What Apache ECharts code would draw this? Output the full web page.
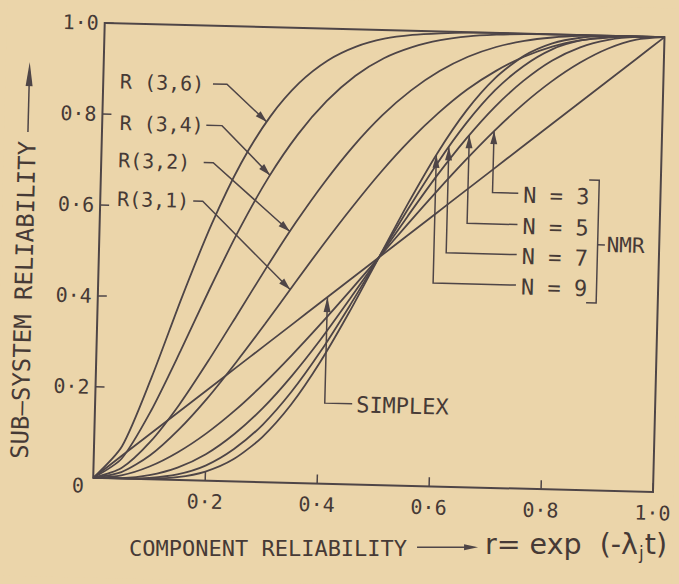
<!DOCTYPE html>
<html>
<head>
<meta charset="utf-8">
<script src="https://cdn.jsdelivr.net/npm/echarts@6.0.0/dist/echarts.min.js"></script>
<style>
  html, body { margin: 0; padding: 0; background: #ebd5aa; overflow: hidden; }
  #chart { width: 679px; height: 584px; transform: rotate(1.45deg); transform-origin: 339.5px 292px; }
</style>
</head>
<body>
<div id="chart"></div>
<script>
// Component reliability r, sampled every 0.05
const reliability = [0, 0.05, 0.1, 0.15, 0.2, 0.25, 0.3, 0.35, 0.4, 0.45, 0.5, 0.55, 0.6, 0.65, 0.7, 0.75, 0.8, 0.85, 0.9, 0.95, 1];

// Sub-system reliability for each arrangement
const simplex = [0, 0.05, 0.1, 0.15, 0.2, 0.25, 0.3, 0.35, 0.4, 0.45, 0.5, 0.55, 0.6, 0.65, 0.7, 0.75, 0.8, 0.85, 0.9, 0.95, 1];
const nmr3 = [0, 0.007, 0.028, 0.061, 0.104, 0.156, 0.216, 0.282, 0.352, 0.425, 0.500, 0.575, 0.648, 0.718, 0.784, 0.844, 0.896, 0.939, 0.972, 0.993, 1];
const nmr5 = [0, 0.001, 0.009, 0.027, 0.058, 0.104, 0.163, 0.235, 0.317, 0.407, 0.500, 0.593, 0.683, 0.765, 0.837, 0.896, 0.942, 0.973, 0.991, 0.999, 1];
const nmr7 = [0, 0.000, 0.003, 0.012, 0.033, 0.071, 0.126, 0.200, 0.290, 0.392, 0.500, 0.608, 0.710, 0.800, 0.874, 0.929, 0.967, 0.988, 0.997, 1.000, 1];
const nmr9 = [0, 0.000, 0.001, 0.006, 0.020, 0.049, 0.099, 0.172, 0.267, 0.379, 0.500, 0.621, 0.733, 0.828, 0.901, 0.951, 0.980, 0.994, 0.999, 1.000, 1];
const r31 = [0, 0.014, 0.052, 0.110, 0.181, 0.262, 0.348, 0.437, 0.525, 0.609, 0.688, 0.759, 0.821, 0.874, 0.916, 0.949, 0.973, 0.988, 0.996, 1.000, 1];
const r32 = [0, 0.023, 0.082, 0.165, 0.263, 0.367, 0.472, 0.572, 0.663, 0.744, 0.813, 0.869, 0.913, 0.946, 0.969, 0.984, 0.993, 0.998, 1.000, 1, 1];
const r34 = [0, 0.044, 0.150, 0.283, 0.423, 0.555, 0.671, 0.766, 0.841, 0.898, 0.938, 0.964, 0.981, 0.991, 0.996, 0.999, 1, 1, 1, 1, 1];
const r36 = [0, 0.071, 0.225, 0.401, 0.564, 0.700, 0.804, 0.879, 0.930, 0.962, 0.981, 0.991, 0.996, 0.999, 1, 1, 1, 1, 1, 1, 1];

// Tick labels, one per 0.2 step
const tickLabels = ['0', '0·2', '0·4', '0·6', '0·8', '1·0'];

const PAPER = '#ebd5aa';
const INK = '#4e4547';
const TEXT_INK = '#463a36';
const MONO = '"DejaVu Sans Mono", monospace';
const SANS = '"DejaVu Sans", sans-serif';

const chart = echarts.init(document.getElementById('chart'), null, { renderer: 'svg', width: 679, height: 584 });

const curves = [
  ['Simplex', simplex], ['NMR N = 3', nmr3], ['NMR N = 5', nmr5], ['NMR N = 7', nmr7], ['NMR N = 9', nmr9],
  ['R(3,1)', r31], ['R(3,2)', r32], ['R(3,4)', r34], ['R(3,6)', r36]
];

const tickFormatter = v => (v === 0 ? '' : tickLabels[Math.round(v / 0.2)]);

const axisCommon = {
  type: 'value', min: 0, max: 1, interval: 0.2,
  axisLine: { show: false },
  axisTick: { inside: true, length: 9, lineStyle: { color: INK, width: 1.5 } },
  splitLine: { show: false },
  axisLabel: {
    showMinLabel: false, formatter: tickFormatter,
    fontFamily: MONO, fontSize: 20, color: TEXT_INK
  }
};

chart.setOption({
  animation: false,
  backgroundColor: PAPER,
  grid: { left: 98, top: 29, width: 560, height: 455, show: true, borderColor: INK, borderWidth: 2 },
  xAxis: Object.assign({}, axisCommon, { axisLabel: Object.assign({}, axisCommon.axisLabel, { margin: 11 }) }),
  yAxis: Object.assign({}, axisCommon, { axisLabel: Object.assign({}, axisCommon.axisLabel, { margin: 6 }) }),
  series: curves.map(([name, vals]) => ({
    name, type: 'line', silent: true, showSymbol: false, smooth: 0.25,
    data: reliability.map((r, i) => [r, vals[i]]),
    lineStyle: { color: INK, width: 1.8 }, z: 3
  }))
});

// ---- callouts, bracket and axis titles ----
const P = (r, v) => chart.convertToPixel({ gridIndex: 0 }, [r, v]);

function curveAt(vals, r) {
  for (let i = 0; i < reliability.length - 1; i++) {
    if (r <= reliability[i + 1]) {
      const t = (r - reliability[i]) / (reliability[i + 1] - reliability[i]);
      return vals[i] + t * (vals[i + 1] - vals[i]);
    }
  }
  return vals[vals.length - 1];
}

const stroke = (points, w) => ({ type: 'polyline', z: 10, silent: true, shape: { points }, style: { stroke: INK, lineWidth: w || 1.5, fill: null } });
function arrowHead(tip, from, len, half) {
  const dx = tip[0] - from[0], dy = tip[1] - from[1];
  const d = Math.hypot(dx, dy), ux = dx / d, uy = dy / d;
  const bx = tip[0] - ux * len, by = tip[1] - uy * len;
  return { type: 'polygon', z: 10, silent: true, shape: { points: [tip, [bx - uy * half, by + ux * half], [bx + uy * half, by - ux * half]] }, style: { fill: INK } };
}
const label = (text, pt, size, family, extra) => ({
  type: 'text', z: 10, silent: true, x: pt[0], y: pt[1],
  style: Object.assign({ text, fontSize: size, fontFamily: family || MONO, fill: TEXT_INK,
    align: 'left', verticalAlign: 'middle', textAlign: 'left', textVerticalAlign: 'middle' }, extra || {})
});

const graphics = [];

const rCallouts = [
  { text: 'R (3,6)', values: r36, at: [0.030, 0.872], bend: [0.196, 0.221], tip: 0.294 },
  { text: 'R (3,4)', values: r34, at: [0.031, 0.781], bend: [0.186, 0.214], tip: 0.302 },
  { text: 'R(3,2)', values: r32, at: [0.030, 0.699], bend: [0.183, 0.200], tip: 0.340 },
  { text: 'R(3,1)', values: r31, at: [0.030, 0.614], bend: [0.166, 0.183], tip: 0.343 }
];
rCallouts.forEach(c => {
  const a = P(c.bend[0], c.at[1]), b = P(c.bend[1], c.at[1]);
  const tip = P(c.tip, curveAt(c.values, c.tip));
  graphics.push(label(c.text, P(c.at[0], c.at[1]), 20));
  graphics.push(stroke([a, b, tip]));
  graphics.push(arrowHead(tip, b, 12, 3.5));
});

const nmrCallouts = [
  { text: 'N = 3', values: nmr3, v: 0.645, tip: 0.700 },
  { text: 'N = 5', values: nmr5, v: 0.576, tip: 0.656 },
  { text: 'N = 7', values: nmr7, v: 0.510, tip: 0.620 },
  { text: 'N = 9', values: nmr9, v: 0.443, tip: 0.598 }
];
nmrCallouts.forEach(c => {
  const tip = P(c.tip, curveAt(c.values, c.tip));
  const corner = P(c.tip, c.v + 0.004), end = P(0.746, c.v + 0.004);
  graphics.push(stroke([tip, corner, end]));
  graphics.push(arrowHead(tip, corner, 13, 3.5));
  graphics.push(label(c.text, P(0.755, c.v), 22));
});
graphics.push(stroke([P(0.872, 0.682), P(0.890, 0.682), P(0.890, 0.412), P(0.872, 0.412)]));
graphics.push(stroke([P(0.890, 0.540), P(0.903, 0.540)]));
graphics.push(label('NMR', P(0.906, 0.540), 21));

// simplex pointer
{
  const tip = P(0.41, curveAt(simplex, 0.41));
  const corner = P(0.41, 0.177), end = P(0.459, 0.177);
  graphics.push(stroke([tip, corner, end]));
  graphics.push(arrowHead(tip, corner, 15, 3.5));
  graphics.push(label('SIMPLEX', P(0.466, 0.175), 22));
}

// shared origin label
{
  const o = P(0, 0);
  graphics.push(label('0', [o[0] - 15, o[1] + 8], 20, MONO, { align: 'center', textAlign: 'center' }));
}

// vertical axis title with arrow
graphics.push({
  type: 'text', z: 10, silent: true, x: 24, y: 308, rotation: Math.PI / 2,
  style: { text: 'SUB–SYSTEM RELIABILITY', fontSize: 24, fontFamily: MONO, fill: TEXT_INK,
    align: 'center', verticalAlign: 'middle', textAlign: 'center', textVerticalAlign: 'middle' }
});
graphics.push(stroke([[24, 140], [24, 88]], 1.5));
graphics.push(arrowHead([24, 70], [24, 140], 24, 3.5));

// horizontal axis title, kept level on the page
const meas = document.createElement('canvas').getContext('2d');
function widthOf(str, px, family) { meas.font = px + 'px ' + family; return meas.measureText(str).width; }
{
  const partA = 'r= exp  (-λ', partB = 'j', partC = 't)';
  const fx = 356, fy = -4;
  const wA = widthOf(partA, 28.5, SANS), wB = widthOf(partB, 17, SANS);
  graphics.push({
    type: 'group', x: 135.5, y: 553.3, rotation: 1.45 * Math.PI / 180, z: 10,
    children: [
      label('COMPONENT RELIABILITY', [0, 0], 22),
      stroke([[288, -1], [338, -1]], 1.5),
      arrowHead([349, -1], [288, -1], 14, 3),
      label(partA, [fx, fy], 28.5, SANS),
      label(partB, [fx + wA + 1, fy + 9], 17, SANS),
      label(partC, [fx + wA + wB + 2, fy], 28.5, SANS)
    ]
  });
}

chart.setOption({ graphic: { elements: graphics } });
</script>
</body>
</html>
